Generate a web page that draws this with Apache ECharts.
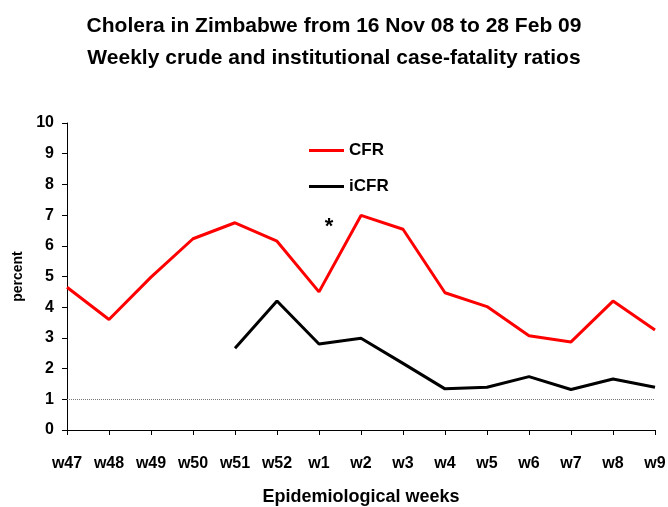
<!DOCTYPE html>
<html>
<head>
<meta charset="utf-8">
<script src="https://cdn.jsdelivr.net/npm/echarts@6/dist/echarts.min.js"></script>
<style>
  html, body { margin: 0; padding: 0; background: #fff; }
  #chart { width: 668px; height: 507px; }
</style>
</head>
<body>
<div id="chart"></div>
<script>
  // epidemiological weeks, Nov 08 to Feb 09
  const weeks = ['w47', 'w48', 'w49', 'w50', 'w51', 'w52', 'w1', 'w2', 'w3', 'w4', 'w5', 'w6', 'w7', 'w8', 'w9']
  // crude case-fatality ratio (%)
  const cfr = [4.65, 3.6, 4.98, 6.23, 6.75, 6.15, 4.5, 6.99, 6.54, 4.47, 4.02, 3.07, 2.87, 4.2, 3.26]
  // institutional case-fatality ratio (%), starts at w51
  const icfr = [null, null, null, null, 2.66, 4.2, 2.8, 2.99, 2.17, 1.34, 1.39, 1.74, 1.32, 1.66, 1.39]
  // 1% reference line
  const refLevel = 1

  const font = 'Liberation Sans, Arial, sans-serif'
  const chart = echarts.init(document.getElementById('chart'))

  chart.setOption({
    animation: false,
    title: {
      text: 'Cholera in Zimbabwe from 16 Nov 08 to 28 Feb 09\nWeekly crude and institutional case-fatality ratios',
      left: 'center',
      top: 5,
      textStyle: { fontFamily: font, fontSize: 21, fontWeight: 'bold', color: '#000', lineHeight: 32 }
    },
    legend: {
      orient: 'vertical',
      left: 304,
      top: 137,
      itemWidth: 35,
      itemHeight: 3,
      itemGap: 19,
      icon: 'rect',
      textStyle: { fontFamily: font, fontSize: 17, fontWeight: 'bold', color: '#000' },
      data: ['CFR', 'iCFR']
    },
    // keep the plot box fixed, labels may sit outside it
    grid: { left: 67, right: 13, top: 123, bottom: 77, containLabel: false, outerBoundsMode: 'none' },
    xAxis: {
      type: 'category',
      data: weeks,
      boundaryGap: false,
      name: 'Epidemiological weeks',
      nameLocation: 'middle',
      nameGap: 58,
      nameTextStyle: { fontFamily: font, fontSize: 18, fontWeight: 'bold', color: '#000' },
      axisLine: { lineStyle: { color: '#000', width: 1 } },
      axisTick: { alignWithLabel: true, length: 5, lineStyle: { color: '#000' } },
      axisLabel: { fontFamily: font, fontSize: 16, fontWeight: 'bold', color: '#000', margin: 26, interval: 0 },
      splitLine: { show: false }
    },
    yAxis: {
      type: 'value',
      min: 0,
      max: 10,
      interval: 1,
      name: 'percent',
      nameLocation: 'middle',
      nameGap: 42,
      nameTextStyle: { fontFamily: font, fontSize: 14, fontWeight: 'bold', color: '#000' },
      axisLine: { show: true, lineStyle: { color: '#000', width: 1 } },
      axisTick: { show: true, length: 5, lineStyle: { color: '#000' } },
      axisLabel: { fontFamily: font, fontSize: 16, fontWeight: 'bold', color: '#000', margin: 13 },
      splitLine: { show: false }
    },
    series: [
      {
        name: 'CFR',
        type: 'line',
        data: cfr,
        symbol: 'none',
        color: '#ff0000',
        lineStyle: { width: 3, color: '#ff0000' },
        markPoint: {
          symbol: 'circle',
          symbolSize: 0,
          data: [{ coord: ['w1', 6.75] }],
          label: {
            show: true,
            formatter: '*',
            offset: [10, 4],
            fontFamily: font,
            fontSize: 22,
            fontWeight: 'bold',
            color: '#000'
          }
        },
        markLine: {
          silent: true,
          symbol: 'none',
          label: { show: false },
          lineStyle: { type: 'dotted', color: '#777', width: 1 },
          data: [{ yAxis: refLevel }]
        }
      },
      {
        name: 'iCFR',
        type: 'line',
        data: icfr,
        symbol: 'none',
        color: '#000',
        lineStyle: { width: 3, color: '#000' }
      }
    ]
  })
</script>
</body>
</html>
